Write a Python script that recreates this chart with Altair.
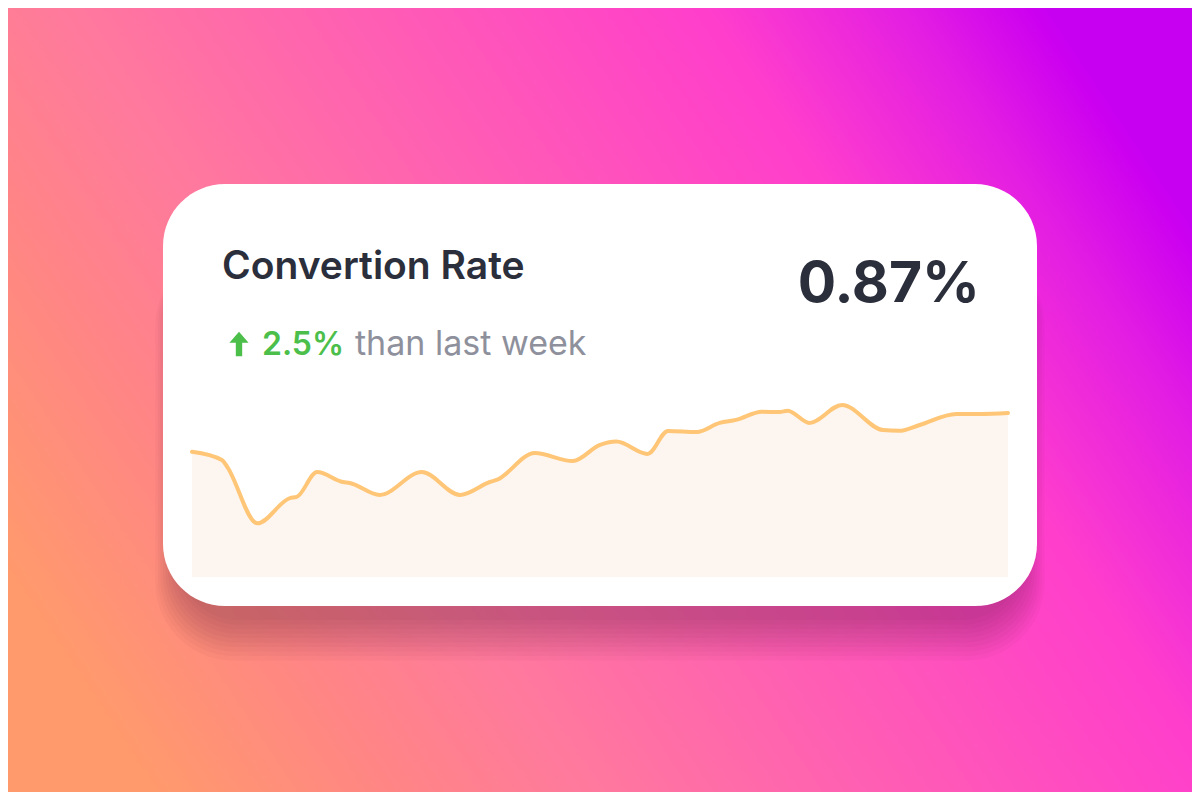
import altair as alt
import pandas as pd

# ---- data -------------------------------------------------------------
days = [0, 1.1, 1.3, 2.4, 3.6, 3.85, 4.6, 5.55, 5.8, 6.9, 8.45, 9.85, 10.95, 11.2,
        12.6, 14.0, 15.0, 15.6, 16.75, 17.5, 18.55, 19.4, 20.0, 20.95, 21.6, 21.9,
        22.7, 23.9, 25.4, 26.0, 26.75, 28.1, 29.0, 30]
rates = [67.0, 62.6, 58.8, 28.7, 42.2, 42.8, 56.1, 50.8, 50.3, 43.9, 56.1, 43.9,
         50.8, 51.9, 66.3, 62.0, 70.6, 72.4, 65.8, 78.1, 77.5, 82.4, 84.0, 88.4,
         88.2, 88.9, 82.4, 92.0, 78.6, 78.2, 81.3, 87.2, 87.2, 87.7]

title_text = "Convertion Rate"
value_text = "0.87%"
change_text = "2.5%"
compare_text = "than last week"

W, H = 1184, 784

df = pd.DataFrame({"day": days, "rate": rates})
one = pd.DataFrame({"k": [0]})

# ---- background ------------------------------------------------------
bg_gradient = {
    "gradient": "linear",
    "x1": 0, "y1": 0.72, "x2": 1, "y2": 0.28,
    "stops": [
        {"offset": 0.0, "color": "#ff9a6c"},
        {"offset": 0.17, "color": "#ff8585"},
        {"offset": 0.30, "color": "#ff7a9c"},
        {"offset": 0.50, "color": "#ff60b2"},
        {"offset": 0.76, "color": "#ff3ecc"},
        {"offset": 0.90, "color": "#e41ee2"},
        {"offset": 0.99, "color": "#cc00f0"},
        {"offset": 1.0, "color": "#c800f2"},
    ],
}

background = alt.Chart(one).mark_rect(fill=bg_gradient).encode(
    x=alt.value(0), x2=alt.value(W), y=alt.value(0), y2=alt.value(H)
)

layers = [background]

# soft shadow under the card (stacked translucent rounded rects)
for i in range(10):
    layers.append(
        alt.Chart(one).mark_rect(
            fill="#5a1040", opacity=0.035, cornerRadius=60 + i * 2
        ).encode(
            x=alt.value(170 - i * 2.5), x2=alt.value(1014 + i * 2.5),
            y=alt.value(240), y2=alt.value(612 + i * 4.5),
        )
    )

card = alt.Chart(one).mark_rect(fill="white", cornerRadius=62).encode(
    x=alt.value(155), x2=alt.value(1029), y=alt.value(176), y2=alt.value(598)
)
layers.append(card)

# ---- sparkline -------------------------------------------------------
xs = alt.Scale(domain=[0, 30], range=[184, 1000], nice=False, zero=False)
ys = alt.Scale(domain=[0, 100], range=[569, 382], nice=False, zero=False)

base = alt.Chart(df).encode(
    x=alt.X("day:Q", scale=xs, axis=None),
    y=alt.Y("rate:Q", scale=ys, axis=None),
)
area = base.mark_area(interpolate="monotone", color="#fdf6f0", opacity=1)
line = base.mark_line(interpolate="monotone", color="#ffc677", strokeWidth=4,
                      strokeCap="round")
layers += [area, line]

# ---- texts -----------------------------------------------------------
title = alt.Chart(one).mark_text(
    text=title_text, font="Inter", fontSize=39, fontWeight=600, color="#2b2e3b",
    align="left", baseline="alphabetic"
).encode(x=alt.value(214), y=alt.value(271))

value = alt.Chart(one).mark_text(
    text=value_text, font="Inter", fontSize=57, fontWeight=700, color="#2b2e3b",
    align="right", baseline="alphabetic"
).encode(x=alt.value(972), y=alt.value(294))

arrow_path = ("M0,-1 L0.78,-0.1 L0.26,-0.1 L0.26,1 L-0.26,1 "
              "L-0.26,-0.1 L-0.78,-0.1 Z")
arrow = alt.Chart(one).mark_point(
    shape=arrow_path, size=600, filled=True, color="#4cbe4a", opacity=1,
    strokeWidth=0
).encode(x=alt.value(231), y=alt.value(336))

change = alt.Chart(one).mark_text(
    text=change_text, font="Inter", fontSize=32, fontWeight=600, color="#4cbe4a",
    align="left", baseline="alphabetic"
).encode(x=alt.value(254), y=alt.value(347))

compare = alt.Chart(one).mark_text(
    text=compare_text, font="Inter", fontSize=34, fontWeight=400, color="#8e909c",
    align="left", baseline="alphabetic"
).encode(x=alt.value(347), y=alt.value(347))

layers += [title, value, arrow, change, compare]

chart = alt.layer(*layers).properties(
    width=W, height=H, padding=0
).configure_view(strokeWidth=0)

chart.save("out.html", embed_options={"renderer": "svg", "actions": False})
